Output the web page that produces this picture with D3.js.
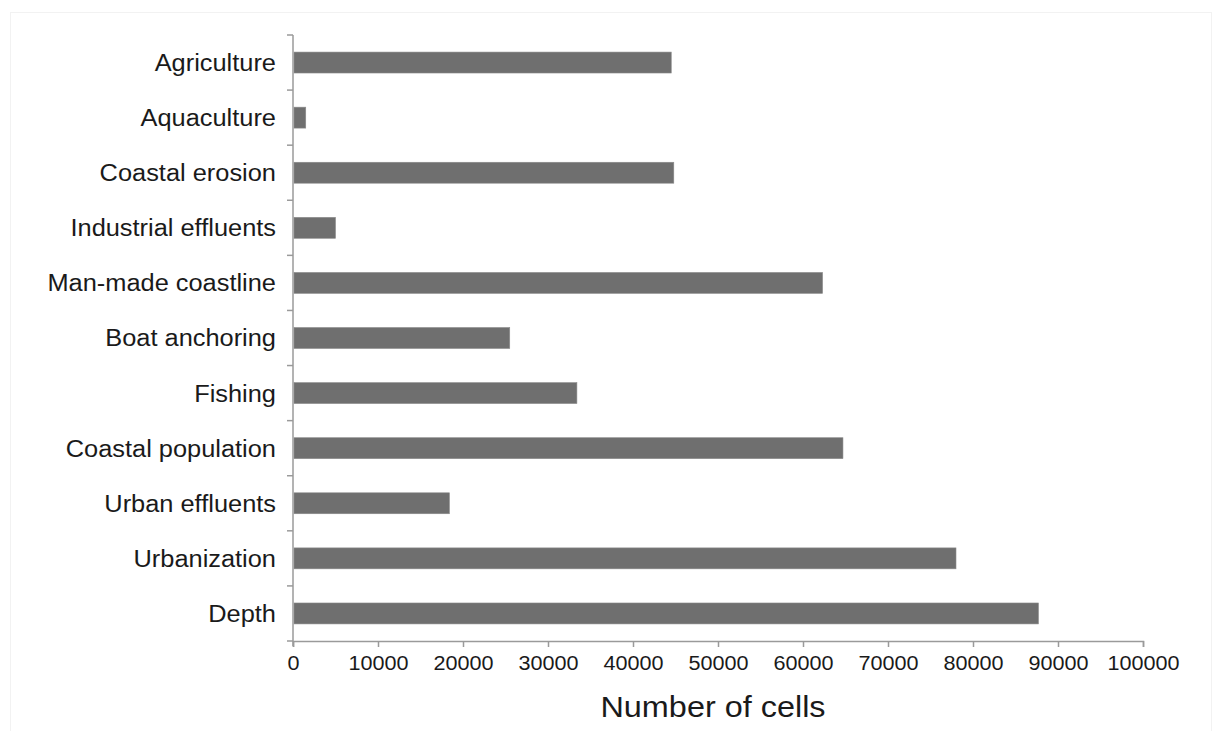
<!DOCTYPE html>
<html>
<head>
<meta charset="utf-8">
<script src="https://cdn.jsdelivr.net/npm/d3@7"></script>
<style>
  html, body { margin: 0; padding: 0; background: #fff; }
  svg { display: block; }
  text { font-family: "Liberation Sans", Arial, Helvetica, sans-serif; fill: #1a1a1a; }
</style>
</head>
<body>
<svg id="chart" width="1216" height="731"></svg>
<script>
const categories = ["Agriculture", "Aquaculture", "Coastal erosion", "Industrial effluents",
  "Man-made coastline", "Boat anchoring", "Fishing", "Coastal population",
  "Urban effluents", "Urbanization", "Depth"];
const values = [44500, 1500, 44800, 5000, 62300, 25500, 33400, 64700, 18400, 78000, 87700];
const xTicks = [0, 10000, 20000, 30000, 40000, 50000, 60000, 70000, 80000, 90000, 100000];
const xTitle = "Number of cells";

(function() {
const svg = d3.select("#chart");
const stretch = 1.08;

// faint frame
svg.append("rect").attr("x", 10.5).attr("y", 12.5).attr("width", 1201).attr("height", 730)
  .attr("fill", "none").attr("stroke", "#f2f2f2").attr("stroke-width", 1);

const mLeft = 293, mRight = 1143, mTop = 35, mBottom = 641;
const x = d3.scaleLinear().domain([0, 100000]).range([mLeft, mRight]);
const y = d3.scaleBand().domain(categories).range([mTop, mBottom]).paddingInner(0.62).paddingOuter(0.31);
const yEdges = d3.scaleLinear().domain([0, categories.length]).range([mTop, mBottom]);

const axisColor = "#9a9a9a";

// bars
svg.append("g").selectAll("rect").data(categories).join("rect")
  .attr("x", x(0) + 1)
  .attr("y", d => y(d))
  .attr("width", (d, i) => x(values[i]) - x(0) - 1)
  .attr("height", y.bandwidth())
  .attr("fill", "#6f6f6f")
  .attr("stroke", "#8a8a8a")
  .attr("stroke-width", 0.6);

// y axis line and ticks at category boundaries
const gy = svg.append("g");
gy.append("line").attr("x1", mLeft).attr("x2", mLeft).attr("y1", mTop).attr("y2", mBottom + 5)
  .attr("stroke", axisColor).attr("stroke-width", 1.5);
gy.selectAll("line.tk").data(d3.range(categories.length + 1)).join("line").attr("class", "tk")
  .attr("x1", mLeft - 6).attr("x2", mLeft)
  .attr("y1", d => yEdges(d)).attr("y2", d => yEdges(d))
  .attr("stroke", axisColor).attr("stroke-width", 1.5);

// category labels
gy.selectAll("text").data(categories).join("text")
  .attr("x", 276)
  .attr("y", d => y(d) + y.bandwidth() / 2)
  .attr("dy", "0.36em")
  .attr("text-anchor", "end")
  .style("font-size", "23.5px")
  .text(d => d);

// x axis
const gx = svg.append("g").attr("transform", `translate(0,${mBottom})`)
  .call(d3.axisBottom(x).tickValues(xTicks).tickSize(6).tickPadding(9).tickFormat(d3.format("d")));
gx.select(".domain").attr("stroke", axisColor).attr("stroke-width", 1.5);
gx.selectAll(".tick line").attr("stroke", axisColor).attr("stroke-width", 1.5);
gx.selectAll(".tick text").style("font-size", "20px").attr("fill", "#1a1a1a")
  .style("font-family", "'Liberation Sans', Arial, sans-serif");

svg.append("text").attr("x", 713).attr("y", 717).attr("text-anchor", "middle")
  .style("font-size", "30px").text(xTitle);

// slight horizontal stretch of text to match reference proportions
svg.selectAll("text").each(function() {
  const w = this.getComputedTextLength();
  d3.select(this).attr("textLength", w * stretch).attr("lengthAdjust", "spacingAndGlyphs");
});
})();
</script>
</body>
</html>
